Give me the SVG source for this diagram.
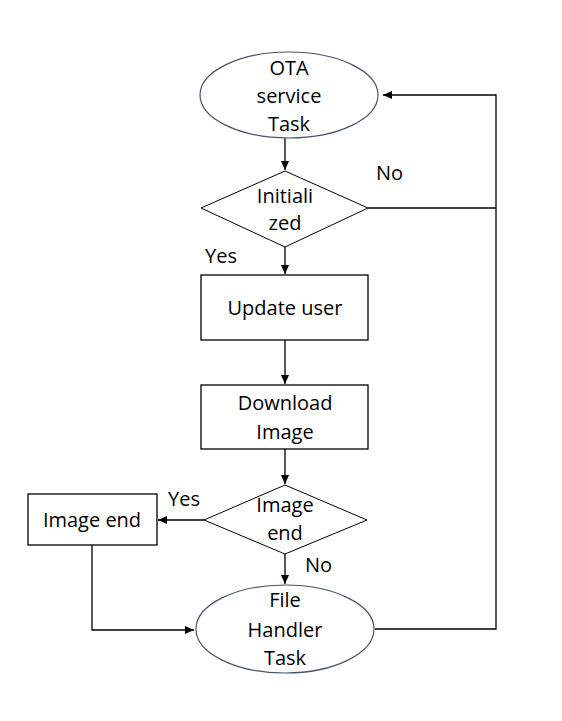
<svg xmlns="http://www.w3.org/2000/svg" width="562" height="721" viewBox="0 0 562 721">
<style>
text{font-family:"Open Sans","Liberation Sans",sans-serif;font-size:20px;fill:#000;text-anchor:middle}
.lbl{text-anchor:start}
.ell{fill:#fff;stroke:#44546a;stroke-width:1.2}
.box{fill:#fff;stroke:#000;stroke-width:1.3}
.con{fill:none;stroke:#000;stroke-width:1.3}
</style>
<defs>
<marker id="ah" markerWidth="10" markerHeight="8" refX="9" refY="4" orient="auto" markerUnits="userSpaceOnUse">
<path d="M0,0 L9,4 L0,8 Z" fill="#000"/>
</marker>
</defs>
<rect width="562" height="721" fill="#fff"/>
<g id="connectors">
<line class="con" x1="285" y1="138" x2="285" y2="170" marker-end="url(#ah)"/>
<line class="con" x1="285" y1="247" x2="285" y2="274" marker-end="url(#ah)"/>
<line class="con" x1="285" y1="340" x2="285" y2="384" marker-end="url(#ah)"/>
<line class="con" x1="285" y1="449" x2="285" y2="484" marker-end="url(#ah)"/>
<line class="con" x1="285" y1="554" x2="285" y2="584" marker-end="url(#ah)"/>
<line class="con" x1="204" y1="520" x2="158" y2="520" marker-end="url(#ah)"/>
<polyline class="con" points="92,545 92,630 194,630" marker-end="url(#ah)"/>
<polyline class="con" points="368,208 496,208"/>
<polyline class="con" points="375,629 496,629 496,95 383,95" marker-end="url(#ah)"/>
</g>
<g id="ota">
<ellipse class="ell" cx="289" cy="95" rx="89" ry="43"/>
<text x="289" y="75">OTA</text>
<text x="289" y="103">service</text>
<text x="289" y="131">Task</text>
</g>
<g id="initialized">
<polygon class="box" points="285,171 368,208 285,247 201,208" style="stroke-width:1"/>
<text x="285" y="203">Initiali</text>
<text x="285" y="230">zed</text>
</g>
<g id="update">
<rect class="box" x="201" y="275" width="167" height="65"/>
<text x="285" y="315">Update user</text>
</g>
<g id="download">
<rect class="box" x="201" y="385" width="167" height="64"/>
<text x="285" y="410">Download</text>
<text x="285" y="439">Image</text>
</g>
<g id="imageEndDecision">
<polygon class="box" points="285,485 367,520 285,554 204,520" style="stroke-width:1"/>
<text x="285" y="512">Image</text>
<text x="285" y="540">end</text>
</g>
<g id="imageEndBox">
<rect class="box" x="28" y="494" width="129" height="51"/>
<text x="92" y="527">Image end</text>
</g>
<g id="fileHandler">
<ellipse class="ell" cx="285" cy="629" rx="89" ry="44"/>
<text x="285" y="607">File</text>
<text x="285" y="637">Handler</text>
<text x="285" y="665">Task</text>
</g>
<g id="labels">
<text class="lbl" x="376" y="180">No</text>
<text class="lbl" x="205" y="263">Yes</text>
<text class="lbl" x="168" y="506">Yes</text>
<text class="lbl" x="305" y="572">No</text>
</g>
</svg>
